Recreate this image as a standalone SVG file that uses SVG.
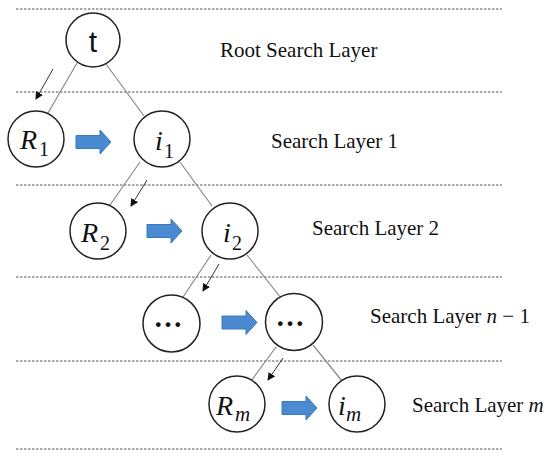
<svg xmlns="http://www.w3.org/2000/svg" width="550" height="458" viewBox="0 0 550 458">
<style>
.dash{stroke:#555;stroke-width:1;stroke-dasharray:2.5 1.5;fill:none}
.node{fill:#fff;stroke:#222;stroke-width:1.5}
.edge{stroke:#8a8a8a;stroke-width:1.2;fill:none}
.ptr{stroke:#333;stroke-width:1;fill:none;marker-end:url(#ah)}
.lay{font-family:"Liberation Serif","Times New Roman",serif;font-size:21px;fill:#111}
.m{font-family:"Liberation Serif","Times New Roman",serif;font-style:italic;fill:#111}
.sub{font-family:"Liberation Serif","Times New Roman",serif;fill:#111}
.blk{fill:#4a8ad0;stroke:#3d78b8;stroke-width:1}
</style>
<defs>
<marker id="ah" markerWidth="8" markerHeight="8" refX="7" refY="4" orient="auto" markerUnits="userSpaceOnUse">
<path d="M0,0 L8,4 L0,8 Z" fill="#111"/>
</marker>
<path id="blk" d="M0,-6.5 H24 V-12 L35,0 L24,12 V6.5 H0 Z"/>
</defs>
<g id="layers">
<line class="dash" x1="16" y1="9" x2="502" y2="9"/>
<line class="dash" x1="16" y1="92" x2="502" y2="92"/>
<line class="dash" x1="16" y1="185" x2="502" y2="185"/>
<line class="dash" x1="16" y1="277" x2="502" y2="277"/>
<line class="dash" x1="16" y1="361" x2="502" y2="361"/>
<line class="dash" x1="16" y1="449" x2="502" y2="449"/>
</g>
<g id="connectors">
<line class="edge" x1="77" y1="63" x2="48" y2="113"/>
<line class="edge" x1="106" y1="64" x2="144" y2="116"/>
<line class="edge" x1="140" y1="162" x2="110" y2="205"/>
<line class="edge" x1="180" y1="162" x2="212" y2="206"/>
<line class="edge" x1="211" y1="255" x2="183" y2="297"/>
<line class="edge" x1="247" y1="255" x2="281" y2="298"/>
<line class="edge" x1="276" y1="347" x2="251" y2="381"/>
<line class="edge" x1="313" y1="345" x2="342" y2="381"/>
<line class="ptr" x1="53" y1="69" x2="36" y2="99"/>
<line class="ptr" x1="147" y1="180" x2="131" y2="206"/>
<line class="ptr" x1="219" y1="264" x2="203" y2="291"/>
<line class="ptr" x1="283" y1="358" x2="268" y2="380"/>
<use href="#blk" class="blk" x="76" y="142"/>
<use href="#blk" class="blk" x="147" y="231"/>
<use href="#blk" class="blk" x="222" y="322.5"/>
<use href="#blk" class="blk" x="282" y="408"/>
</g>
<g id="node-t">
<circle class="node" cx="93" cy="40" r="27"/>
<text x="93" y="52" text-anchor="middle" font-family="'Liberation Sans',Arial,sans-serif" font-size="30" fill="#111">t</text>
</g>
<g id="node-R1">
<circle class="node" cx="36" cy="139" r="28"/>
<text x="20" y="149" class="m" font-size="28">R</text><text x="39" y="156" class="sub" font-size="20">1</text>
</g>
<g id="node-i1">
<circle class="node" cx="162" cy="139" r="28"/>
<text x="155" y="150" class="m" font-size="28">i</text><text x="164" y="158" class="sub" font-size="20">1</text>
</g>
<g id="node-R2">
<circle class="node" cx="98" cy="231" r="28"/>
<text x="81" y="242" class="m" font-size="28">R</text><text x="100" y="250" class="sub" font-size="20">2</text>
</g>
<g id="node-i2">
<circle class="node" cx="230" cy="231" r="28"/>
<text x="223" y="242" class="m" font-size="28">i</text><text x="232" y="250" class="sub" font-size="20">2</text>
</g>
<g id="node-dots-left">
<circle class="node" cx="171.5" cy="323.5" r="28.5"/>
<text x="168" y="327" text-anchor="middle" class="sub" font-size="29" font-weight="bold">…</text>
</g>
<g id="node-dots-right">
<circle class="node" cx="294" cy="322" r="28.5"/>
<text x="290" y="326" text-anchor="middle" class="sub" font-size="29" font-weight="bold">…</text>
</g>
<g id="node-Rm">
<circle class="node" cx="237" cy="404" r="28"/>
<text x="216" y="415" class="m" font-size="28">R</text><text x="235" y="421" class="m" font-size="21">m</text>
</g>
<g id="node-im">
<circle class="node" cx="357" cy="404" r="28"/>
<text x="338" y="415" class="m" font-size="28">i</text><text x="346" y="421" class="m" font-size="21">m</text>
</g>
<g id="labels">
<text class="lay" x="220" y="57">Root Search Layer</text>
<text class="lay" x="271" y="148">Search Layer 1</text>
<text class="lay" x="312" y="235">Search Layer 2</text>
<text class="lay" x="370" y="323">Search Layer <tspan font-style="italic">n</tspan> − 1</text>
<text class="lay" x="412" y="412">Search Layer <tspan font-style="italic">m</tspan></text>
</g>
</svg>
